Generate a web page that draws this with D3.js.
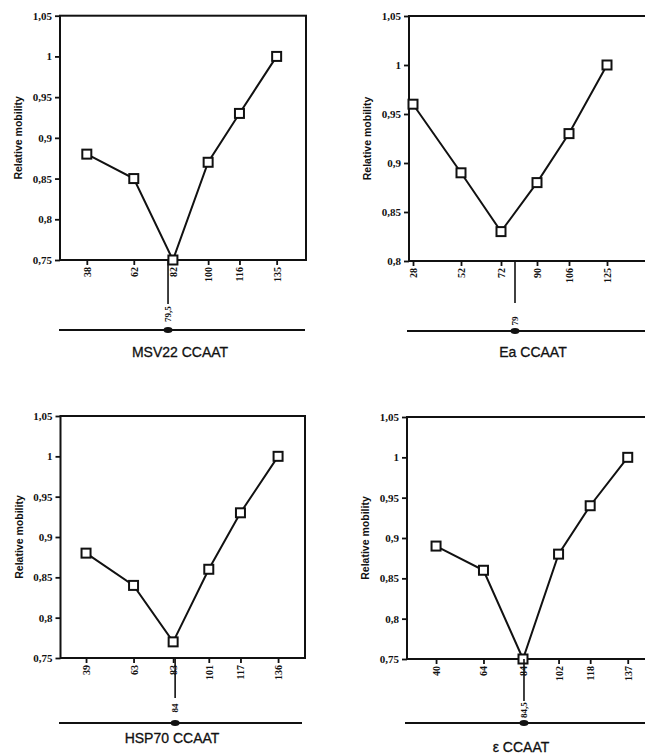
<!DOCTYPE html>
<html>
<head>
<meta charset="utf-8">
<script src="https://cdn.jsdelivr.net/npm/d3@7/dist/d3.min.js"></script>
<style>
  html, body { margin: 0; padding: 0; background: #fff; }
  svg { display: block; }
  .tick text { font-family: "Liberation Serif", "DejaVu Serif", serif; font-weight: bold; fill: #111; }
  .tick line { stroke: #111; stroke-width: 1.8; }
</style>
</head>
<body>
<svg id="chart" width="645" height="756"></svg>
<script>
// ---------- data ----------
const titles = ["MSV22 CCAAT", "Ea CCAAT", "HSP70 CCAAT", "\u03b5 CCAAT"];
const msv22Pos = [38, 62, 82, 100, 116, 135];
const msv22Mob = [0.88, 0.85, 0.75, 0.87, 0.93, 1.0];
const eaPos = [28, 52, 72, 90, 106, 125];
const eaMob = [0.96, 0.89, 0.83, 0.88, 0.93, 1.0];
const hsp70Pos = [39, 63, 83, 101, 117, 136];
const hsp70Mob = [0.88, 0.84, 0.77, 0.86, 0.93, 1.0];
const epsPos = [40, 64, 84, 102, 118, 137];
const epsMob = [0.89, 0.86, 0.75, 0.88, 0.94, 1.0];
const bendCenters = [79.5, 79, 84, 84.5];
const bendLabels = ["79,5", "79", "84", "84,5"];
const yTicksA = [0.75, 0.8, 0.85, 0.9, 0.95, 1, 1.05];
const yTicksB = [0.8, 0.85, 0.9, 0.95, 1, 1.05];
const yLabel = "Relative mobility";

// ---------- layout ----------
const layouts = [
  { pos: msv22Pos, mob: msv22Mob, yTicks: yTicksA, xDom: [24.3, 150], xR: [60, 306], yDom: [0.75, 1.05], yR: [260, 15.7],
    vEnd: 304, labY: 314, lineY: 330, lineX: [59, 305], titleY: 352, titleX: 180 },
  { pos: eaPos, mob: eaMob, yTicks: yTicksB, xDom: [26, 149], xR: [409, 655], yDom: [0.8, 1.05], yR: [261, 16],
    vEnd: 303, labY: 321, lineY: 331, lineX: [407, 660], titleY: 352, titleX: 533 },
  { pos: hsp70Pos, mob: hsp70Mob, yTicks: yTicksA, xDom: [26.1, 149.6], xR: [60.5, 305], yDom: [0.75, 1.05], yR: [658, 416],
    vEnd: 698, labY: 708, lineY: 723, lineX: [59, 302], titleY: 738, titleX: 172 },
  { pos: epsPos, mob: epsMob, yTicks: yTicksA, xDom: [25.3, 150.8], xR: [407, 655], yDom: [0.75, 1.05], yR: [659, 417],
    vEnd: 701, labY: 710, lineY: 723, lineX: [405, 660], titleY: 747, titleX: 521 }
];

const svg = d3.select("#chart");
const ink = "#111";
const fmt = d => String(+d.toFixed(2)).replace(".", ",");

layouts.forEach((L, i) => {
  const x = d3.scaleLinear().domain(L.xDom).range(L.xR);
  const y = d3.scaleLinear().domain(L.yDom).range(L.yR);
  const g = svg.append("g");
  const x0 = L.xR[0], x1 = L.xR[1], yb = L.yR[0], yt = L.yR[1];

  // y axis
  const ya = g.append("g").attr("transform", `translate(${x0},0)`)
    .call(d3.axisLeft(y).tickValues(L.yTicks).tickFormat(fmt).tickSize(5).tickSizeOuter(0).tickPadding(3));
  ya.select(".domain").remove();
  ya.selectAll(".tick text").attr("font-size", 11);

  // x axis
  const xa = g.append("g").attr("transform", `translate(0,${yb})`)
    .call(d3.axisBottom(x).tickValues(L.pos).tickFormat(d => d).tickSize(5).tickSizeOuter(0));
  xa.select(".domain").remove();
  xa.selectAll(".tick text")
    .attr("font-size", 10)
    .attr("transform", "rotate(-90)")
    .attr("x", -7).attr("y", 0).attr("dy", null)
    .attr("dominant-baseline", "central")
    .attr("text-anchor", "end");

  // frame
  g.append("rect").attr("x", x0).attr("y", yt).attr("width", x1 - x0).attr("height", yb - yt)
    .attr("fill", "none").attr("stroke", ink).attr("stroke-width", 2);

  // y label
  g.append("text")
    .attr("transform", `translate(${x0 - 42},${(yt + yb) / 2}) rotate(-90)`)
    .attr("text-anchor", "middle").attr("dominant-baseline", "central")
    .attr("font-family", "'Liberation Sans', Arial, sans-serif").attr("font-weight", "bold")
    .attr("font-size", 10.5).attr("fill", ink).text(yLabel);

  // data line
  const pts = L.pos.map((p, k) => [p, L.mob[k]]);
  g.append("path").datum(pts)
    .attr("d", d3.line().x(d => x(d[0])).y(d => y(d[1])))
    .attr("fill", "none").attr("stroke", ink).attr("stroke-width", 2);
  g.selectAll("rect.pt").data(pts).join("rect").attr("class", "pt")
    .attr("x", d => x(d[0]) - 4.5).attr("y", d => y(d[1]) - 4.5)
    .attr("width", 9).attr("height", 9)
    .attr("fill", "#fff").attr("stroke", ink).attr("stroke-width", 2);

  // bend center marker
  const bx = x(bendCenters[i]);
  g.append("line").attr("x1", bx).attr("x2", bx).attr("y1", yb).attr("y2", L.vEnd)
    .attr("stroke", ink).attr("stroke-width", 1.6);
  g.append("text")
    .attr("transform", `translate(${bx},${L.labY}) rotate(-90)`)
    .attr("text-anchor", "middle").attr("dominant-baseline", "central")
    .attr("font-family", "'Liberation Serif', serif").attr("font-weight", "bold")
    .attr("font-size", 9).attr("fill", ink).text(bendLabels[i]);
  g.append("line").attr("x1", L.lineX[0]).attr("x2", L.lineX[1]).attr("y1", L.lineY).attr("y2", L.lineY)
    .attr("stroke", ink).attr("stroke-width", 2);
  g.append("ellipse").attr("cx", bx).attr("cy", L.lineY).attr("rx", 4.5).attr("ry", 3).attr("fill", ink);

  // title
  g.append("text").attr("x", L.titleX).attr("y", L.titleY)
    .attr("text-anchor", "middle").attr("dominant-baseline", "central")
    .attr("font-family", "'Liberation Sans', Arial, sans-serif")
    .attr("font-size", 14).attr("fill", ink)
    .attr("stroke", ink).attr("stroke-width", 0.3)
    .text(titles[i]);
});
</script>
</body>
</html>
